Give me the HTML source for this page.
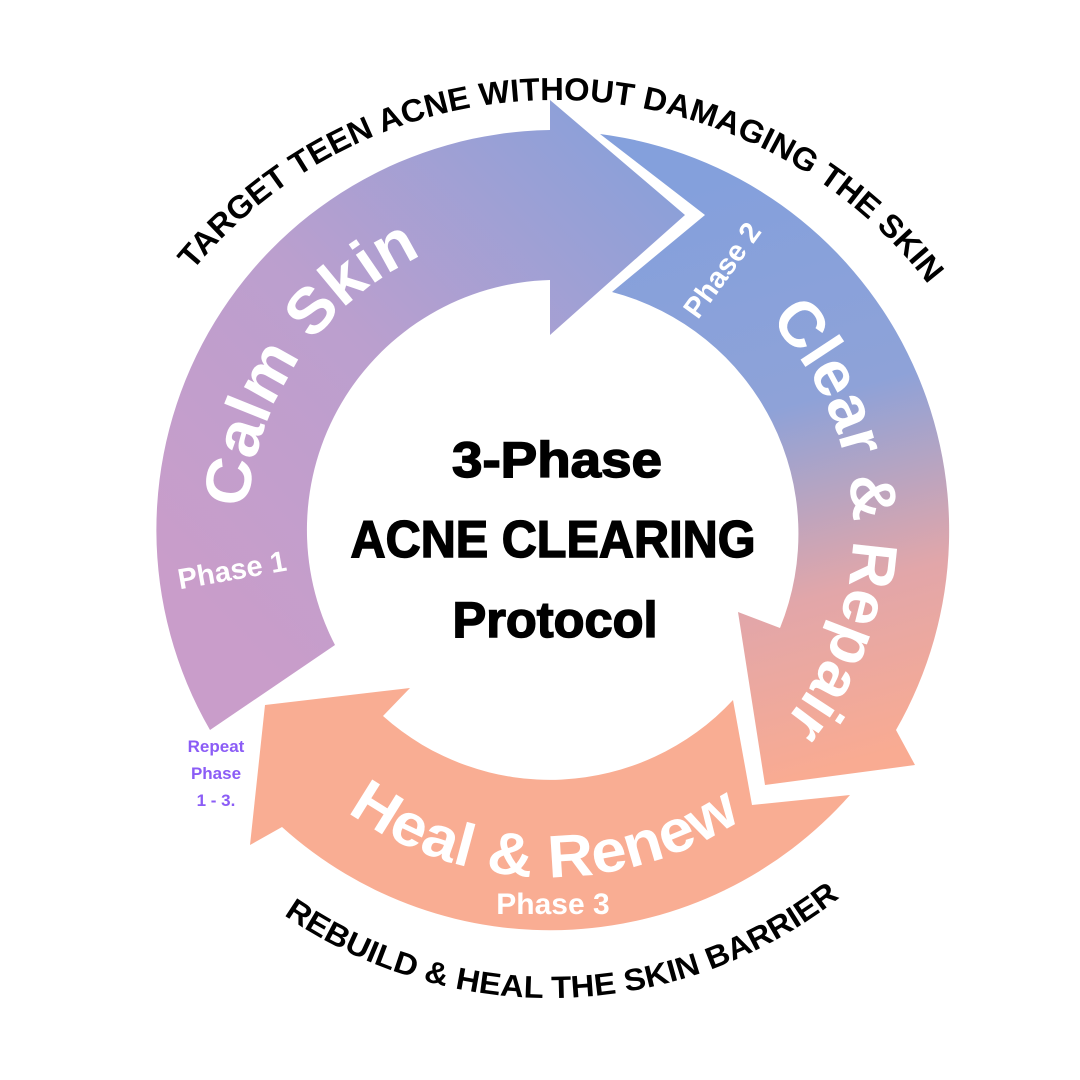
<!DOCTYPE html>
<html><head><meta charset="utf-8"><style>
html,body{margin:0;padding:0;background:#fff;}
svg{display:block;}
text{font-family:"Liberation Sans",Arial,sans-serif;font-weight:bold;}
</style></head><body>
<svg width="1080" height="1080" viewBox="0 0 1080 1080" xmlns="http://www.w3.org/2000/svg">
<defs>
<linearGradient id="g1" gradientUnits="userSpaceOnUse" x1="220" y1="620" x2="690" y2="160">
<stop offset="0" stop-color="#c99dca"/><stop offset="0.45" stop-color="#bb9fce"/><stop offset="1" stop-color="#86a0da"/>
</linearGradient>
<linearGradient id="g2" gradientUnits="userSpaceOnUse" x1="700" y1="180" x2="860" y2="760">
<stop offset="0" stop-color="#84a0dc"/><stop offset="0.4" stop-color="#8ea2d8"/><stop offset="0.72" stop-color="#e2a6a9"/><stop offset="1" stop-color="#f9ab92"/>
</linearGradient>
<path id="cw303" d="M550,227 A303,303 0 1,1 550,833 A303,303 0 1,1 550,227"/>
<path id="ccw347" d="M203,530 A347,347 0 0,0 897,530"/>
<path id="top470" d="M555,1040 A470,470 0 1,1 555,100 A470,470 0 1,1 555,1040"/>
<path id="bot468" d="M82,530 A468,468 0 0,0 1018,530"/>
</defs>

<path d="M210,730 L335,645 A250,250 0 0,1 550,280 L550,335 L685,215 L550,100 L550,130 A400,400 0 0,0 210,730 Z" fill="url(#g1)"/>
<path d="M600,134 L705,215 L612,292 A250,250 0 0,1 780,628 L738,612 L765,785 L915,765 L896,730 A400,400 0 0,0 600,134 Z" fill="url(#g2)"/>
<path d="M850,795 L752,805 L733,700 A250,250 0 0,1 383,716 L410,688 L265,705 L250,845 L282,827 A400,400 0 0,0 850,795 Z" fill="#f9ad93"/>

<text font-size="64" fill="#fff"><textPath href="#cw303" startOffset="84.6%" text-anchor="middle" textLength="322" lengthAdjust="spacingAndGlyphs">Calm Skin</textPath></text>
<text font-size="64" fill="#fff"><textPath href="#cw303" startOffset="24.4%" text-anchor="middle" textLength="440" lengthAdjust="spacingAndGlyphs">Clear &amp; Repair</textPath></text>
<text font-size="60" fill="#fff"><textPath href="#ccw347" startOffset="49.4%" text-anchor="middle" textLength="420" lengthAdjust="spacingAndGlyphs">Heal &amp; Renew</textPath></text>

<text x="232" y="580" font-size="29" fill="#fff" text-anchor="middle" transform="rotate(-10 232 570)">Phase 1</text>
<text x="722" y="280" font-size="29" fill="#fff" text-anchor="middle" transform="rotate(-54 722 270)">Phase 2</text>
<text x="553" y="914" font-size="30" fill="#fff" text-anchor="middle">Phase 3</text>

<text font-size="32" fill="#000"><textPath href="#top470" startOffset="50.3%" text-anchor="middle" textLength="845" lengthAdjust="spacingAndGlyphs">TARGET TEEN ACNE WITHOUT DAMAGING THE SKIN</textPath></text>
<text font-size="31" fill="#000"><textPath href="#bot468" startOffset="51%" text-anchor="middle" textLength="596" lengthAdjust="spacingAndGlyphs">REBUILD &amp; HEAL THE SKIN BARRIER</textPath></text>

<text font-size="17" fill="#8b5cf6" text-anchor="middle"><tspan x="216" y="752">Repeat</tspan><tspan x="216" y="779">Phase</tspan><tspan x="216" y="806">1 - 3.</tspan></text>

<g fill="#000" stroke="#000" stroke-width="1.5" text-anchor="middle">
<text x="557" y="477" font-size="50" textLength="210" lengthAdjust="spacingAndGlyphs">3-Phase</text>
<text x="553" y="557" font-size="52" textLength="405" lengthAdjust="spacingAndGlyphs">ACNE CLEARING</text>
<text x="555" y="637" font-size="50" textLength="205" lengthAdjust="spacingAndGlyphs">Protocol</text>
</g>
</svg>
</body></html>
